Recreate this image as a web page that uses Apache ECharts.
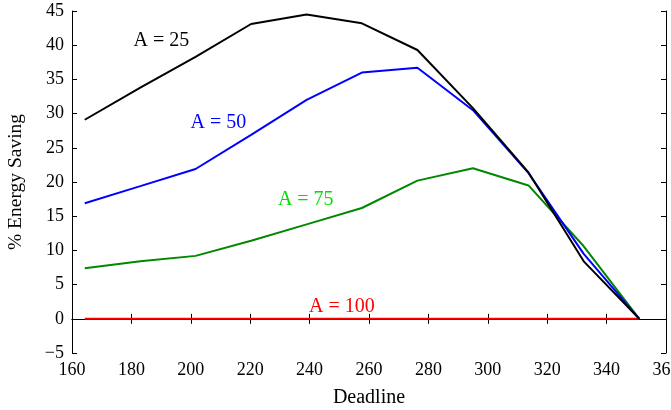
<!DOCTYPE html>
<html>
<head>
<meta charset="utf-8">
<script src="https://cdn.jsdelivr.net/npm/echarts@6/dist/echarts.min.js"></script>
<style>
html,body{margin:0;padding:0;background:#fff;}
#c{width:671px;height:410px;}
</style>
</head>
<body>
<div id="c"></div>
<script>
const deadlines = [164.3, 183.0, 201.6, 220.3, 239.0, 257.6, 276.3, 295.0, 313.7, 332.3, 351.0];
const a25  = [29.1, 33.8, 38.3, 43.1, 44.5, 43.2, 39.3, 30.8, 21.4, 8.4, 0];
const a50  = [16.9, 19.4, 21.9, 26.9, 32.0, 36.0, 36.7, 30.5, 21.3, 9.5, 0];
const a75  = [7.4, 8.4, 9.2, 11.4, 13.8, 16.2, 20.2, 22.0, 19.5, 10.6, 0];
const a100 = [0, 0, 0, 0, 0, 0, 0, 0, 0, 0, 0];
const seriesNames = ['A = 100', 'A = 75', 'A = 50', 'A = 25'];
const labelAnchors = { 'A = 25': [190.1, 40.6], 'A = 50': [209.3, 28.7], 'A = 75': [238.7, 17.4], 'A = 100': [250.9, 1.73] };
const lineColors = { 'A = 25': '#000000', 'A = 50': '#0000ff', 'A = 75': '#008800', 'A = 100': '#ff0000' };
const textColors = { 'A = 25': '#000000', 'A = 50': '#0000ff', 'A = 75': '#00e000', 'A = 100': '#ff0000' };
const values = { 'A = 25': a25, 'A = 50': a50, 'A = 75': a75, 'A = 100': a100 };

const font = 'Liberation Serif';
const chart = echarts.init(document.getElementById('c'));
const fmt = v => String(v).replace('-', '\u2212');
const axisLine = { show: true, lineStyle: { color: '#000', width: 1 } };
const ticks = { show: true, inside: true, length: 5, lineStyle: { color: '#000' } };

chart.setOption({
  animation: false,
  backgroundColor: '#fff',
  grid: { left: 72, right: 5, top: 11, bottom: 57, containLabel: false, outerBoundsMode: 'none' },
  xAxis: [
    { type: 'value', min: 160, max: 360, interval: 20, position: 'bottom',
      axisLine, axisTick: ticks, splitLine: { show: false },
      axisLabel: { color: '#000', fontFamily: font, fontSize: 18, margin: 8, showMaxLabel: true, hideOverlap: false },
      name: 'Deadline', nameLocation: 'middle', nameGap: 35,
      nameTextStyle: { color: '#000', fontFamily: font, fontSize: 20 } },
    { type: 'value', min: 160, max: 360, interval: 20, position: 'top',
      axisLine, axisTick: ticks, splitLine: { show: false }, axisLabel: { show: false } }
  ],
  yAxis: [
    { type: 'value', min: -5, max: 45, interval: 5, position: 'left',
      axisLine, axisTick: ticks, splitLine: { show: false },
      axisLabel: { color: '#000', fontFamily: font, fontSize: 18, margin: 8, formatter: fmt },
      name: '% Energy Saving', nameLocation: 'middle', nameGap: 46,
      nameTextStyle: { color: '#000', fontFamily: font, fontSize: 19.5 } },
    { type: 'value', min: -5, max: 45, interval: 5, position: 'right',
      axisLine, axisTick: ticks, splitLine: { show: false }, axisLabel: { show: false } }
  ],
  series: seriesNames.map(name => ({
    name, type: 'line', xAxisIndex: 0, yAxisIndex: 0,
    data: deadlines.map((d, i) => [d, values[name][i]]),
    showSymbol: false, symbol: 'none',
    lineStyle: { color: lineColors[name], width: 2 },
    markPoint: {
      symbol: 'circle', symbolSize: 1,
      itemStyle: { color: 'rgba(0,0,0,0)' },
      data: [{ coord: labelAnchors[name], value: name }],
      label: { show: true, position: 'inside', formatter: name, color: textColors[name], fontFamily: font, fontSize: 20 }
    }
  }))
});
</script>
</body>
</html>
